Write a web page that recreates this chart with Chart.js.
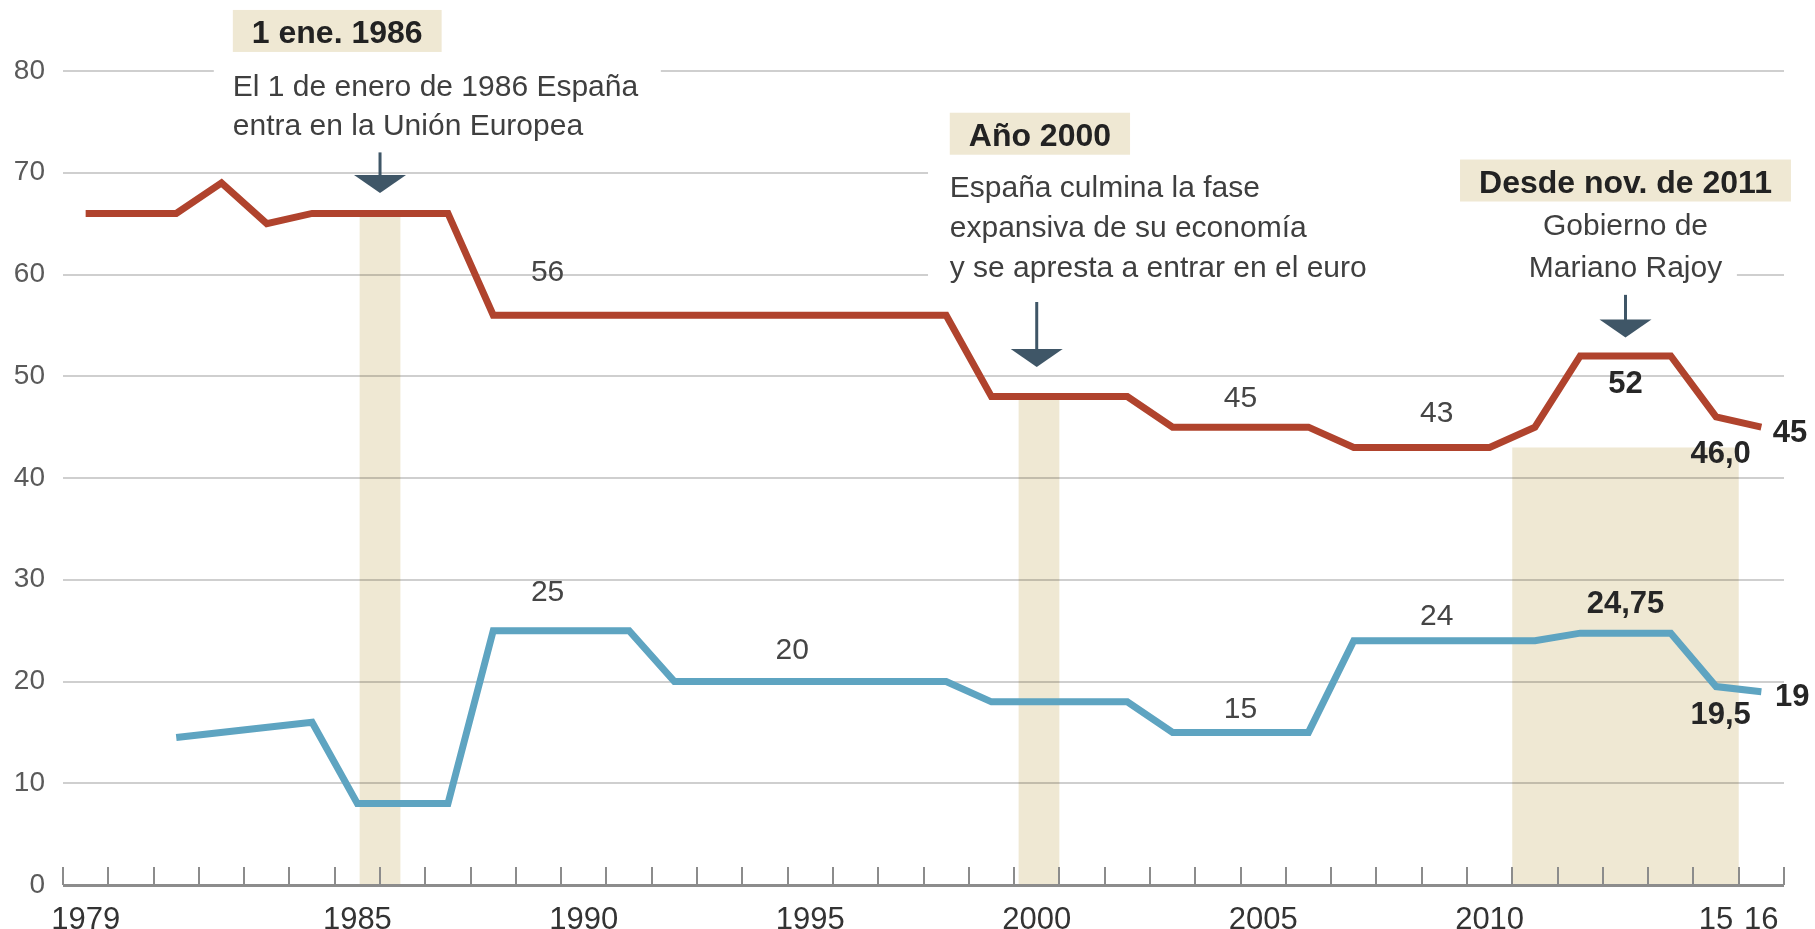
<!DOCTYPE html>
<html>
<head>
<meta charset="utf-8">
<title>Tipos</title>
<script src="https://cdn.jsdelivr.net/npm/chart.js@4.4.1/dist/chart.umd.min.js"></script>
<style>
    html, body { margin: 0; padding: 0; background: #fff; }
    #chart-box { width: 1815px; height: 929px; }
</style>
</head>
<body>
<div id="chart-box"><canvas id="rates-chart"></canvas></div>
<script>
const years = [1979, 1980, 1981, 1982, 1983, 1984, 1985, 1986, 1987, 1988,
    1989, 1990, 1991, 1992, 1993, 1994, 1995, 1996, 1997, 1998,
    1999, 2000, 2001, 2002, 2003, 2004, 2005, 2006, 2007, 2008,
    2009, 2010, 2011, 2012, 2013, 2014, 2015, 2016]
const tipoMaximo = [66, 66, 66, 69, 65, 66, 66, 66, 66, 56,
    56, 56, 56, 56, 56, 56, 56, 56, 56, 56,
    48, 48, 48, 48, 45, 45, 45, 45, 43, 43,
    43, 43, 45, 52, 52, 52, 46, 45]
const tipoMinimo = [null, null, 14.5, null, null, 16, 8, 8, 8, 25,
    25, 25, 25, 20, 20, 20, 20, 20, 20, 20,
    18, 18, 18, 18, 15, 15, 15, 15, 24, 24,
    24, 24, 24, 24.75, 24.75, 24.75, 19.5, 19]
const tickYears = [1979, 1985, 1990, 1995, 2000, 2005, 2010, 2015, 2016]
const tickLabels = ["1979", "1985", "1990", "1995", "2000", "2005", "2010", "15", "16"]

const FONT = '"Liberation Sans", Arial, sans-serif'
const RED = "#b0432d"
const BLUE = "#5ea4c1"
const BEIGE = "#efe8d3"
const ARROW = "#3f5667"
const GRID = "rgba(0,0,0,0.19)"
const AXIS = "#8c8c8c"

// shaded periods
const bands = [
    {from: 1985.05, to: 1985.95, top: 66},
    {from: 1999.6, to: 2000.5, top: 48},
    {from: 2010.5, to: 2015.5, top: 43}
]
const arrows = [
    {x: 1985.5, top: 72, tip: 68},
    {x: 2000, top: 57.3, tip: 50.9},
    {x: 2013, top: 58, tip: 53.8}
]
const notes = [
    {x: 1982.25, top: 86, align: "left", title: "1 ene. 1986",
        lines: ["El 1 de enero de 1986 España", "entra en la Unión Europea"], first: 86, gap: 39},
    {x: 1998.08, top: 75.9, align: "left", title: "Año 2000",
        lines: ["España culmina la fase", "expansiva de su economía", "y se apresta a entrar en el euro"], first: 84, gap: 40},
    {x: 2013, top: 71.3, align: "center", title: "Desde nov. de 2011",
        lines: ["Gobierno de", "Mariano Rajoy"], first: 75, gap: 42}
]
// bits of gridline hidden behind the notes
const gridGaps = [[80, 1981.83, 1991.7], [70, 1997.6, 2016.6], [60, 1997.6, 2015.46]]
// value labels (which dataset, which year's value, where to put it)
const valueLabels = [
    {set: 0, year: 1989, at: 1989.2, dy: -45},
    {set: 0, year: 2004, at: 2004.5, dy: -31},
    {set: 0, year: 2008, at: 2008.83, dy: -36},
    {set: 0, year: 2013, at: 2013.0, dy: 26, bold: true},
    {set: 0, year: 2015, at: 2015.1, dy: 35, bold: true, dec: 1},
    {set: 0, year: 2016, at: 2016.25, dy: 4, bold: true, align: "left"},
    {set: 1, year: 1989, at: 1989.2, dy: -40},
    {set: 1, year: 1995, at: 1994.6, dy: -33},
    {set: 1, year: 2004, at: 2004.5, dy: -25},
    {set: 1, year: 2008, at: 2008.83, dy: -27},
    {set: 1, year: 2013, at: 2013.0, dy: -31, bold: true, dec: 2},
    {set: 1, year: 2015, at: 2015.1, dy: 26, bold: true, dec: 1},
    {set: 1, year: 2016, at: 2016.3, dy: 3, bold: true, align: "left"}
]
const seriesValues = [tipoMaximo, tipoMinimo]

function hasFont(name) {
    const c = document.createElement("canvas").getContext("2d")
    c.font = "40px monospace"
    const w0 = c.measureText("abcdefghijklm").width
    c.font = '40px "' + name + '", monospace'
    return c.measureText("abcdefghijklm").width !== w0
}
// condensed look for the note text when the narrow face is there
const NOTE_FONT = hasFont("Liberation Sans Narrow") ? '36px "Liberation Sans Narrow", sans-serif' : "30px " + FONT

function fmt(v, dec) {
    return v.toFixed(dec || 0).replace(".", ",")
}

const decor = {
    id: "decor",
    beforeDraw(chart) {
        const {ctx, scales: {x, y}} = chart
        ctx.save()
        ctx.fillStyle = BEIGE
        bands.forEach(b => {
            const l = x.getPixelForValue(b.from)
            const r = x.getPixelForValue(b.to)
            const t = y.getPixelForValue(b.top)
            ctx.fillRect(l, t, r - l, y.getPixelForValue(0) - t)
        })
        ctx.restore()
    },
    beforeDatasetsDraw(chart) {
        const {ctx, scales: {x, y}} = chart
        ctx.save()
        // white out gridlines behind the notes
        ctx.strokeStyle = "#fff"
        ctx.lineWidth = 5
        gridGaps.forEach(g => {
            const py = y.getPixelForValue(g[0])
            ctx.beginPath()
            ctx.moveTo(x.getPixelForValue(g[1]), py)
            ctx.lineTo(x.getPixelForValue(g[2]), py)
            ctx.stroke()
        })
        // small year ticks on the axis
        const base = y.getPixelForValue(0)
        ctx.strokeStyle = AXIS
        ctx.lineWidth = 2
        for (let v = 1978.5; v <= 2016.5; v++) {
            const px = Math.round(x.getPixelForValue(v))
            ctx.beginPath()
            ctx.moveTo(px, base)
            ctx.lineTo(px, base - 18)
            ctx.stroke()
        }
        // arrows
        ctx.fillStyle = ARROW
        ctx.strokeStyle = ARROW
        arrows.forEach(a => {
            const px = x.getPixelForValue(a.x)
            const top = y.getPixelForValue(a.top)
            const tip = y.getPixelForValue(a.tip)
            ctx.lineWidth = 3
            ctx.beginPath()
            ctx.moveTo(px, top)
            ctx.lineTo(px, tip - 10)
            ctx.stroke()
            ctx.beginPath()
            ctx.moveTo(px - 26, tip - 18)
            ctx.lineTo(px + 26, tip - 18)
            ctx.lineTo(px, tip)
            ctx.closePath()
            ctx.fill()
        })
        ctx.restore()
    },
    afterDatasetsDraw(chart) {
        const {ctx, scales: {x, y}} = chart
        ctx.save()
        valueLabels.forEach(l => {
            const v = seriesValues[l.set][years.indexOf(l.year)]
            const size = l.bold ? 31 : 30
            ctx.font = (l.bold ? "bold " : "") + size + "px " + FONT
            ctx.fillStyle = l.bold ? "#262626" : "#454545"
            ctx.textAlign = l.align || "center"
            ctx.textBaseline = "alphabetic"
            ctx.fillText(fmt(v, l.dec), x.getPixelForValue(l.at), y.getPixelForValue(v) + l.dy + 0.36 * size)
        })
        notes.forEach(n => {
            const px = x.getPixelForValue(n.x)
            const top = y.getPixelForValue(n.top)
            ctx.font = "bold 32px " + FONT
            const tw = ctx.measureText(n.title).width
            const bw = tw + 38
            const left = n.align === "left" ? px : px - bw / 2
            ctx.fillStyle = BEIGE
            ctx.fillRect(left, top, bw, 42)
            ctx.fillStyle = "#222"
            ctx.textAlign = "left"
            ctx.textBaseline = "alphabetic"
            ctx.fillText(n.title, left + 19, top + 33)
            ctx.font = NOTE_FONT
            ctx.fillStyle = "#3f3f3f"
            ctx.textAlign = n.align
            n.lines.forEach((t, i) => {
                ctx.fillText(t, px, top + n.first + i * n.gap)
            })
        })
        ctx.restore()
    }
}

const canvas = document.getElementById("rates-chart").getContext("2d")

const ratesChart = new Chart(canvas, {
    type: "line",
    data: {
        datasets: [{
            label: "máximo",
            data: years.map((yr, i) => ({x: yr, y: tipoMaximo[i]})),
            borderColor: RED,
            borderWidth: 7,
            pointRadius: 0,
            tension: 0
        }, {
            label: "mínimo",
            data: years.map((yr, i) => ({x: yr, y: tipoMinimo[i]})),
            borderColor: BLUE,
            borderWidth: 7,
            pointRadius: 0,
            tension: 0,
            spanGaps: true
        }]
    },
    options: {
        responsive: true,
        maintainAspectRatio: false,
        animation: false,
        layout: {padding: {top: 71, right: 31, bottom: 0, left: 0}},
        plugins: {
            legend: {display: false},
            tooltip: {enabled: false}
        },
        scales: {
            x: {
                type: "linear",
                min: 1978.5,
                max: 2016.5,
                afterBuildTicks: axis => {
                    axis.ticks = tickYears.map(v => ({value: v}))
                },
                afterFit: axis => {
                    axis.height = 44
                },
                ticks: {
                    autoSkip: false,
                    maxRotation: 0,
                    padding: 9,
                    color: "#333",
                    font: {family: FONT, size: 31},
                    callback: v => tickLabels[tickYears.indexOf(v)]
                },
                grid: {display: false},
                border: {display: false}
            },
            y: {
                min: 0,
                max: 80,
                afterFit: axis => {
                    axis.width = 63
                },
                ticks: {
                    stepSize: 10,
                    padding: 18,
                    color: "#5a5a5a",
                    font: {family: FONT, size: 28}
                },
                grid: {
                    drawTicks: false,
                    color: c => c.tick.value === 0 ? AXIS : GRID,
                    lineWidth: c => c.tick.value === 0 ? 3 : 2
                },
                border: {display: false}
            }
        }
    },
    plugins: [decor]
})
</script>
</body>
</html>
